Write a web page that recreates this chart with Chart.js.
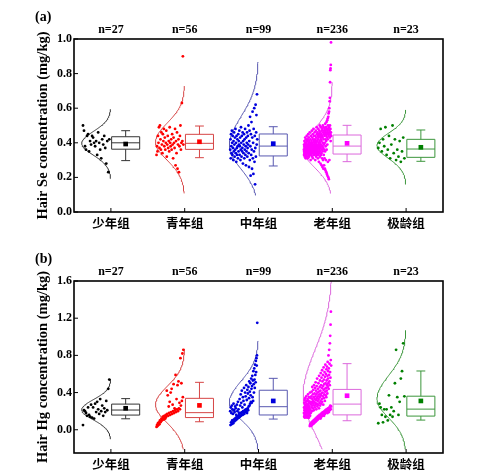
<!DOCTYPE html>
<html>
<head>
<meta charset="utf-8">
<script src="https://cdn.jsdelivr.net/npm/chart.js@4.4.0/dist/chart.umd.min.js"></script>
<style>
  html, body { margin: 0; padding: 0; background: #fff; overflow: hidden; }
  #wrap { position: relative; width: 493px; height: 471px; }
  .panel { position: absolute; left: 0; width: 493px; height: 235px; }
</style>
</head>
<body>
<div id="wrap">
  <div class="panel" style="top:0"><canvas id="seChart" width="493" height="235"></canvas></div>
  <div class="panel" style="top:236px"><canvas id="hgChart" width="493" height="235"></canvas></div>
</div>
<script>
// categories and group sizes
const groups = ['少年组', '青年组', '中年组', '老年组', '极龄组'];
const groupN = [27, 56, 99, 236, 23];
const seTicks = [0, 0.2, 0.4, 0.6, 0.8, 1.0];
const hgTicks = [0, 0.4, 0.8, 1.2, 1.6];

// hair Se (mg/kg), listed left to right as the dots sit in each group
const seTeen = [0.50,0.47,0.38,0.36,0.44,0.45,0.35,0.41,0.39,0.44,0.43,0.40,0.38,0.41,0.33,0.46,0.40,0.36,0.31,0.42,0.39,0.44,0.37,0.28,0.41,0.23,0.42];
const seYoung = [0.33,0.38,0.35,0.44,0.40,0.49,0.37,0.50,0.42,0.36,0.46,0.39,0.34,0.45,0.41,
  0.48,0.38,0.43,0.36,0.40,0.47,0.32,0.39,0.44,0.37,0.41,0.35,0.49,0.40,0.38,0.42,0.36,0.45,0.39,0.31,
  0.43,0.40,0.37,0.48,0.27,0.41,0.34,0.46,0.25,0.39,0.42,0.23,0.38,0.44,0.50,0.36,0.40,0.63,0.41,0.90,0.39];
const seMiddle = [0.36,0.42,0.31,0.45,0.38,0.34,0.47,0.40,0.33,0.44,0.37,0.30,0.41,0.35,0.46,0.39,0.32,0.43,0.36,0.48,0.34,0.40,0.29,0.44,0.37,0.33,0.42,0.38,0.31,0.45,0.35,0.41,0.39,
  0.47,0.33,0.38,0.43,0.30,0.36,0.49,0.40,0.32,0.44,0.35,0.37,0.46,0.28,0.41,0.34,0.39,0.45,0.31,0.42,0.36,0.48,0.33,0.38,0.27,0.43,0.35,0.40,0.46,0.32,0.37,0.44,0.39,
  0.50,0.34,0.26,0.41,0.47,0.30,0.55,0.38,0.21,0.45,0.33,0.52,0.36,0.25,0.43,0.58,0.31,0.40,0.22,0.48,0.35,0.60,0.29,0.44,0.16,0.37,0.62,0.32,0.46,0.56,0.39,0.68,0.42];
const seOld = [0.36,0.33,0.39,0.35,0.41,0.34,0.38,0.32,0.37,0.40,0.35,0.43,0.33,0.36,0.39,0.31,0.42,0.34,0.37,0.35,0.40,0.33,0.38,0.36,0.44,0.32,0.39,0.35,0.41,0.37,
  0.34,0.38,0.36,0.42,0.31,0.39,0.35,0.45,0.33,0.37,0.40,0.34,0.36,0.43,0.38,0.32,0.41,0.35,0.39,0.37,0.46,0.33,0.36,0.40,0.34,0.38,0.42,0.35,0.30,0.39,
  0.37,0.44,0.34,0.40,0.36,0.33,0.41,0.38,0.47,0.35,0.39,0.32,0.43,0.36,0.40,0.34,0.45,0.37,0.31,0.42,0.38,0.35,0.48,0.36,0.39,0.33,0.41,0.44,0.37,0.34,
  0.40,0.36,0.46,0.33,0.38,0.42,0.35,0.39,0.30,0.44,0.37,0.41,0.34,0.47,0.36,0.40,0.32,0.43,0.38,0.35,0.49,0.39,0.33,0.45,0.37,0.41,0.34,0.46,0.36,0.42,
  0.38,0.31,0.44,0.35,0.48,0.40,0.33,0.43,0.37,0.29,0.45,0.39,0.34,0.47,0.41,0.36,0.50,0.38,0.32,0.44,0.40,0.35,0.46,0.28,0.42,0.37,0.49,0.33,0.43,0.39,
  0.45,0.34,0.41,0.27,0.47,0.36,0.44,0.31,0.48,0.38,0.26,0.43,0.35,0.50,0.40,0.30,0.46,0.37,0.25,0.42,0.49,0.33,0.45,0.39,0.27,0.47,0.36,0.44,0.31,0.48,
  0.40,0.25,0.46,0.35,0.51,0.42,0.24,0.47,0.38,0.45,0.30,0.49,0.41,0.23,0.44,0.52,0.36,0.48,0.22,0.43,0.46,0.53,0.39,0.21,0.47,0.54,0.42,0.29,0.50,0.45,
  0.55,0.20,0.48,0.57,0.44,0.19,0.49,0.58,0.46,0.60,0.30,0.47,0.64,0.43,0.66,0.50,0.75,0.45,0.82,0.48,0.83,0.41,0.85,0.46,0.98,0.44];
const seOldest = [0.37,0.40,0.48,0.35,0.42,0.38,0.49,0.33,0.36,0.44,0.31,0.39,0.50,0.34,0.42,0.30,0.36,0.32,0.41,0.29,0.35,0.43,0.31];

// hair Hg (mg/kg), same ordering idea
const hgTeen = [0.05,0.21,0.20,0.18,0.15,0.24,0.16,0.14,0.27,0.13,0.24,0.12,0.28,0.19,0.30,0.22,0.17,0.33,0.20,0.26,0.15,0.23,0.19,0.31,0.21,0.44,0.54];
const hgYoung = [0.03,0.05,0.04,0.07,0.05,0.08,0.06,0.10,0.08,0.09,0.12,0.10,0.11,0.14,0.12,0.11,0.15,0.13,0.12,0.16,
  0.14,0.42,0.17,0.37,0.15,0.25,0.18,0.30,0.16,0.40,0.19,0.44,0.17,0.27,0.20,0.49,0.18,0.23,0.21,0.59,
  0.19,0.33,0.22,0.48,0.20,0.52,0.23,0.29,0.22,0.77,0.26,0.50,0.31,0.82,0.35,0.86];
const hgMiddle = [0.20,0.05,0.24,0.08,0.18,0.06,0.26,0.10,0.22,0.08,0.17,0.07,0.28,0.11,0.21,0.09,0.19,0.12,0.25,0.10,0.23,0.13,0.16,0.11,0.27,0.14,0.20,0.12,0.30,0.15,0.22,0.13,0.18,
  0.16,0.33,0.14,0.26,0.18,0.38,0.15,0.29,0.17,0.42,0.19,0.24,0.16,0.35,0.20,0.31,0.18,0.45,0.17,0.27,0.21,0.40,0.19,0.36,0.22,0.48,0.20,0.32,0.18,0.43,0.23,0.39,0.21,
  0.46,0.25,0.34,0.52,0.26,0.41,0.28,0.50,0.37,0.30,0.55,0.44,0.29,0.47,0.58,0.35,0.53,0.31,0.63,0.49,0.40,0.66,0.54,0.45,0.70,0.59,0.51,0.74,0.62,0.77,0.69,0.80,1.15];
const hgOld = [0.18,0.24,0.14,0.29,0.21,0.16,0.32,0.23,0.13,0.27,0.19,0.34,0.15,0.25,0.22,0.30,0.17,0.14,0.26,0.20,0.36,0.16,0.23,0.28,0.15,0.31,0.19,0.24,0.13,0.21,
  0.26,0.15,0.33,0.18,0.22,0.38,0.14,0.27,0.20,0.24,0.31,0.16,0.29,0.13,0.23,0.35,0.19,0.25,0.17,0.30,0.04,0.22,0.40,0.15,0.06,0.28,0.21,0.05,0.34,0.18,
  0.06,0.30,0.04,0.27,0.36,0.08,0.24,0.41,0.05,0.29,0.20,0.07,0.46,0.33,0.09,0.26,0.38,0.06,0.23,0.31,0.08,0.43,0.28,0.10,0.35,0.21,0.07,0.48,0.30,0.09,
  0.26,0.11,0.39,0.33,0.08,0.24,0.45,0.10,0.29,0.36,0.12,0.51,0.27,0.09,0.42,0.32,0.11,0.22,0.38,0.13,0.47,0.28,0.10,0.34,0.55,0.12,0.25,0.40,0.14,0.31,
  0.11,0.44,0.36,0.13,0.27,0.50,0.15,0.33,0.41,0.12,0.23,0.58,0.14,0.38,0.29,0.16,0.46,0.35,0.13,0.53,0.26,0.15,0.42,0.31,0.12,0.61,0.37,0.17,0.48,0.28,
  0.14,0.39,0.56,0.16,0.33,0.45,0.18,0.64,0.30,0.15,0.52,0.40,0.17,0.36,0.59,0.19,0.47,0.27,0.16,0.43,0.67,0.18,0.34,0.54,0.15,0.49,0.38,0.20,0.62,0.44,
  0.17,0.31,0.57,0.19,0.41,0.70,0.21,0.50,0.37,0.18,0.60,0.45,0.20,0.35,0.65,0.22,0.53,0.42,0.19,0.68,0.48,0.21,0.39,0.58,0.18,0.73,0.46,0.23,0.55,0.63,
  0.20,0.50,0.80,0.22,0.44,0.66,0.19,0.59,0.86,0.24,0.52,0.71,0.21,0.48,0.93,0.23,0.62,1.01,0.26,0.56,1.13,0.22,0.75,1.27,0.25,0.69];
const hgOldest = [0.07,0.28,0.24,0.16,0.08,0.22,0.14,0.22,0.10,0.37,0.16,0.24,0.14,0.20,0.50,0.86,0.35,0.16,0.30,0.55,0.63,0.93,0.36];

// box statistics
const seLow  = [0.297, 0.314, 0.266, 0.291, 0.293];
const seQ1   = [0.363, 0.362, 0.324, 0.335, 0.316];
const seMed  = [0.400, 0.397, 0.381, 0.381, 0.364];
const seQ3   = [0.435, 0.449, 0.451, 0.445, 0.420];
const seHigh = [0.470, 0.497, 0.493, 0.501, 0.474];
const seMean = [0.393, 0.406, 0.395, 0.397, 0.374];
const hgLow  = [0.118, 0.086, 0.115, 0.097, 0.104];
const hgQ1   = [0.158, 0.131, 0.159, 0.160, 0.147];
const hgMed  = [0.212, 0.184, 0.248, 0.276, 0.222];
const hgQ3   = [0.276, 0.338, 0.425, 0.434, 0.361];
const hgHigh = [0.335, 0.510, 0.553, 0.711, 0.632];
const hgMean = [0.231, 0.262, 0.310, 0.366, 0.310];

// fitted distribution curves: mode, upper/lower spread, drawn range
const seCurveMode = [0.397, 0.405, 0.380, 0.362, 0.385];
const seCurveSdUp = [0.068, 0.108, 0.170, 0.120, 0.070];
const seCurveSdDn = [0.068, 0.105, 0.130, 0.105, 0.075];
const seCurveLo   = [0.193, 0.108, 0.097, 0.108, 0.160];
const seCurveHi   = [0.594, 0.728, 0.867, 0.750, 0.590];
const hgCurveMode = [0.215, 0.270, 0.290, 0.370, 0.330];
const hgCurveSdUp = [0.108, 0.195, 0.230, 0.480, 0.250];
const hgCurveSdDn = [0.108, 0.195, 0.180, 0.400, 0.200];
const hgCurveLo   = [-0.10, -0.21, -0.21, -0.21, -0.21];
const hgCurveHi   = [0.545, 0.870, 0.955, 1.600, 1.070];

const POINT_COLORS = ['#000000', '#ff0000', '#0000dd', '#ff00ff', '#008000'];
const LINE_COLORS = ['#333333', '#d64545', '#5858b0', '#dc68dc', '#3c963c'];
const SERIF = '"Liberation Serif", "Times New Roman", serif';

function dotsFor(values, g) {
  const n = values.length;
  return values.map((v, i) => ({ x: g + 0.5 - 0.385 + 0.37 * (i + 0.5) / n, y: v }));
}

function curveFor(c, g) {
  const pts = [];
  const steps = 100;
  for (let k = 0; k <= steps; k++) {
    const y = c.lo[g] + (c.hi[g] - c.lo[g]) * k / steps;
    const sd = y > c.mode[g] ? c.up[g] : c.dn[g];
    const z = (y - c.mode[g]) / sd;
    pts.push({ x: g + 0.5 - 0.395 * Math.exp(-0.5 * z * z), y: y });
  }
  return pts;
}

function makePanel(id, cfg) {
  const datasets = [];
  groups.forEach((name, g) => {
    datasets.push({
      label: name + ' mean', data: [{ x: g + 0.7, y: cfg.box.mean[g] }],
      pointStyle: 'rect', pointRadius: 3.3, backgroundColor: POINT_COLORS[g],
      borderWidth: 0, order: 0
    });
    datasets.push({
      label: name, data: dotsFor(cfg.values[g], g),
      pointRadius: 1.4, backgroundColor: POINT_COLORS[g], borderWidth: 0, order: 1
    });
    datasets.push({
      label: name + ' curve', data: curveFor(cfg.curve, g), showLine: true,
      borderColor: LINE_COLORS[g], borderWidth: 1, pointRadius: 0, order: 2
    });
  });

  const decor = {
    id: 'decor',
    beforeDatasetsDraw(chart) {
      const { ctx } = chart;
      const xs = chart.scales.x, ys = chart.scales.y;
      const b = cfg.box;
      ctx.save();
      ctx.lineWidth = 1;
      groups.forEach((name, g) => {
        const x0 = xs.getPixelForValue(g + 0.51);
        const x1 = xs.getPixelForValue(g + 0.89);
        const xc = xs.getPixelForValue(g + 0.70);
        const cap = xs.getPixelForValue(g + 0.76) - xc;
        const yq1 = ys.getPixelForValue(b.q1[g]), yq3 = ys.getPixelForValue(b.q3[g]);
        const ymed = ys.getPixelForValue(b.med[g]);
        const ylo = ys.getPixelForValue(b.low[g]), yhi = ys.getPixelForValue(b.high[g]);
        ctx.strokeStyle = LINE_COLORS[g];
        ctx.beginPath();
        ctx.rect(x0, yq3, x1 - x0, yq1 - yq3);
        ctx.moveTo(x0, ymed); ctx.lineTo(x1, ymed);
        ctx.moveTo(xc, yq3); ctx.lineTo(xc, yhi);
        ctx.moveTo(xc, yq1); ctx.lineTo(xc, ylo);
        ctx.moveTo(xc - cap, yhi); ctx.lineTo(xc + cap, yhi);
        ctx.moveTo(xc - cap, ylo); ctx.lineTo(xc + cap, ylo);
        ctx.stroke();
      });
      ctx.restore();
    },
    afterDraw(chart) {
      const { ctx, chartArea: a } = chart;
      const xs = chart.scales.x, ys = chart.scales.y;
      ctx.save();
      ctx.strokeStyle = '#000';
      ctx.lineWidth = 1.6;
      ctx.strokeRect(a.left, a.top, a.right - a.left, a.bottom - a.top);
      ctx.lineWidth = 1;
      ctx.beginPath();
      cfg.ticks.forEach(v => {
        const y = ys.getPixelForValue(v);
        ctx.moveTo(a.left, y); ctx.lineTo(a.left + 4, y);
      });
      groups.forEach((name, g) => {
        const x = xs.getPixelForValue(g + 0.5);
        ctx.moveTo(x, a.bottom); ctx.lineTo(x, a.bottom - 4);
      });
      ctx.stroke();
      ctx.fillStyle = '#000';
      ctx.textBaseline = 'middle';
      ctx.textAlign = 'center';
      ctx.font = 'bold 12px ' + SERIF;
      groupN.forEach((n, g) => {
        ctx.fillText('n=' + n, xs.getPixelForValue(g + 0.5), a.top - 9.5);
      });
      ctx.textAlign = 'left';
      ctx.font = 'bold 14px ' + SERIF;
      ctx.fillText(cfg.letter, 35, a.top - 22);
      ctx.restore();
    }
  };

  return new Chart(document.getElementById(id), {
    type: 'scatter',
    data: { datasets: datasets },
    options: {
      responsive: false,
      animation: false,
      layout: { padding: { left: 0, right: 50, top: cfg.padTop, bottom: cfg.padBottom } },
      plugins: { legend: { display: false }, tooltip: { enabled: false } },
      scales: {
        x: {
          type: 'linear', min: 0, max: 5,
          grid: { display: false, drawTicks: false },
          border: { display: false },
          afterBuildTicks: axis => { axis.ticks = groups.map((_, i) => ({ value: i + 0.5 })); },
          afterFit: axis => { axis.height = 18; },
          ticks: {
            autoSkip: false, maxRotation: 0, padding: 4, color: '#000',
            font: { family: '"Noto Sans CJK SC"', size: 12.5, weight: 'bold' },
            callback: (v, i) => groups[i]
          }
        },
        y: {
          min: cfg.yMin, max: cfg.yMax,
          grid: { display: false, drawTicks: false },
          border: { display: false },
          afterBuildTicks: axis => { axis.ticks = cfg.ticks.map(v => ({ value: v })); },
          afterFit: axis => { axis.width = 74; },
          ticks: {
            padding: 2, color: '#000',
            font: { family: SERIF, size: 12, weight: 'bold' },
            callback: v => v.toFixed(1)
          },
          title: {
            display: true, text: cfg.title, color: '#000',
            font: { family: SERIF, size: 14.5, weight: 'bold' },
            padding: { top: 35, bottom: 0 }
          }
        }
      }
    },
    plugins: [decor]
  });
}

makePanel('seChart', {
  letter: '(a)', title: 'Hair Se concentration (mg/kg)',
  yMin: 0, yMax: 1.0, ticks: seTicks, padTop: 39, padBottom: 5,
  values: [seTeen, seYoung, seMiddle, seOld, seOldest],
  box: { low: seLow, q1: seQ1, med: seMed, q3: seQ3, high: seHigh, mean: seMean },
  curve: { mode: seCurveMode, up: seCurveSdUp, dn: seCurveSdDn, lo: seCurveLo, hi: seCurveHi }
});

makePanel('hgChart', {
  letter: '(b)', title: 'Hair Hg concentration (mg/kg)',
  yMin: -0.25, yMax: 1.6, ticks: hgTicks, padTop: 45, padBottom: 0,
  values: [hgTeen, hgYoung, hgMiddle, hgOld, hgOldest],
  box: { low: hgLow, q1: hgQ1, med: hgMed, q3: hgQ3, high: hgHigh, mean: hgMean },
  curve: { mode: hgCurveMode, up: hgCurveSdUp, dn: hgCurveSdDn, lo: hgCurveLo, hi: hgCurveHi }
});
</script>
</body>
</html>
